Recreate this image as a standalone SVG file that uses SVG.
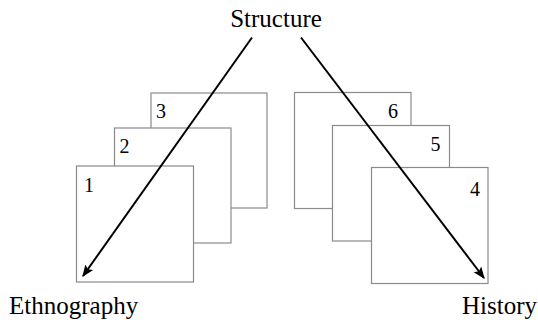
<svg xmlns="http://www.w3.org/2000/svg" width="538" height="322" viewBox="0 0 538 322">
<style>
.card{fill:#fff;stroke:#8a8a8a;stroke-width:1.2}
.num{font-family:'Liberation Serif','Times New Roman','DejaVu Serif',serif;font-size:20px;fill:#000}
.lbl{font-family:'Liberation Serif','Times New Roman','DejaVu Serif',serif;font-size:25px;fill:#000}
.arr{stroke:#000;stroke-width:2;fill:none;marker-end:url(#ah)}
</style>
<defs>
<marker id="ah" viewBox="0 0 10 10" refX="9" refY="5" markerWidth="6" markerHeight="6" orient="auto" markerUnits="strokeWidth">
<path d="M0,1 L10,5 L0,9 L2,5 Z" fill="#000"/>
</marker>
</defs>
<rect width="538" height="322" fill="#fff"/>
<g id="card3"><rect class="card" x="151" y="93" width="116" height="115"/><text class="num" x="156" y="118">3</text></g>
<g id="card2"><rect class="card" x="114.5" y="128" width="116.5" height="115"/><text class="num" x="119.5" y="153">2</text></g>
<g id="card1"><rect class="card" x="76.5" y="166" width="117" height="116"/><text class="num" x="84" y="191.5">1</text></g>
<g id="card6"><rect class="card" x="294.5" y="92.5" width="116.5" height="116"/><text class="num" x="388" y="118">6</text></g>
<g id="card5"><rect class="card" x="332.5" y="125.5" width="117" height="115.5"/><text class="num" x="430.5" y="151">5</text></g>
<g id="card4"><rect class="card" x="371.5" y="167.5" width="116.5" height="116"/><text class="num" x="470" y="196">4</text></g>
<g id="structure"><text class="lbl" x="276" y="27" text-anchor="middle">Structure</text></g>
<g id="ethnography"><text class="lbl" x="9" y="314">Ethnography</text></g>
<g id="history"><text class="lbl" x="537" y="314" text-anchor="end">History</text></g>
<g id="connectors">
<line class="arr" x1="252" y1="37.5" x2="83" y2="276"/>
<line class="arr" x1="301" y1="37.5" x2="484" y2="278"/>
</g>
</svg>
